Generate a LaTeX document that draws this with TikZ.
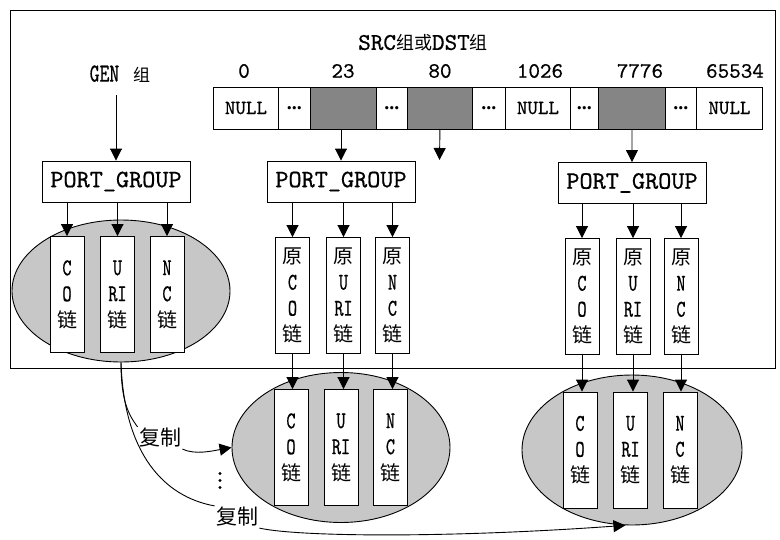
\documentclass[tikz,border=0pt]{standalone}
\usepackage{fontspec}
\usetikzlibrary{shapes.geometric,arrows.meta}
\newfontfamily\mono[FakeBold=0.6]{lmmono10-regular.otf}
\newfontfamily\monon[FakeStretch=0.72,FakeBold=0.6]{lmmono10-regular.otf}
\newfontfamily\cjk{Noto Sans CJK SC}
\newfontfamily\dotf{Liberation Serif}
\newcommand{\zh}[1]{{\cjk\fontsize{20}{26}\selectfont #1}}
\newcommand{\la}[1]{{\monon\fontsize{24}{26}\selectfont #1}}
\begin{document}
\begin{tikzpicture}[x=1pt,y=-1pt,
  line width=0.9pt,
  arr/.style={-{Triangle[length=12pt,width=12pt]},line width=0.9pt},
  cell/.style={draw,minimum width=#1,minimum height=42pt,inner sep=0pt,anchor=west,font=\mono\fontsize{20}{20}\selectfont},
  dcell/.style={cell=#1,font=\dotf\bfseries\fontsize{20}{20}\selectfont},
  scell/.style={cell=#1,fill=black!48},
  num/.style={inner sep=0pt,font=\mono\fontsize{22}{22}\selectfont},
  pg/.style={draw,minimum width=148pt,minimum height=41pt,inner sep=0pt,font=\mono\fontsize{25}{25}\selectfont},
  chain/.style={draw,fill=white,minimum width=34pt,minimum height=116pt,inner sep=0pt,align=center,font=\fontsize{24}{26}\selectfont},
  ell/.style={ellipse,draw,fill=black!22,inner sep=0pt},
  lbl/.style={inner sep=1pt,font=\cjk\fontsize{21}{21}\selectfont},
  dot/.style={fill=black}]
\useasboundingbox (0,0) rectangle (780,539);
\draw (10,10) rectangle (775,368);
% titles
\node[inner sep=0pt] (src) at (423,43) {{\mono\fontsize{24}{24}\selectfont SRC}{\cjk\fontsize{18}{18}\selectfont 组或}{\mono\fontsize{24}{24}\selectfont DST}{\cjk\fontsize{18}{18}\selectfont 组}};
\node[inner sep=0pt] (gen) at (120,74) {{\monon\fontsize{26}{26}\selectfont GEN}\hspace{14pt}{\cjk\fontsize{17}{17}\selectfont 组}};
% numbers
\node[num] (n0) at (244,71) {0};
\node[num] (n23) at (343,71) {23};
\node[num] (n80) at (440,71) {80};
\node[num] (n1026) at (540,71) {1026};
\node[num] (n7776) at (640,71) {7776};
\node[num] (n65534) at (735,71) {65534};
% array
\node[cell=65pt] (c0) at (213,108) {NULL};
\node[dcell=32pt] (d1) at (278,108) {...};
\node[scell=66pt] (c23) at (310,108) {};
\node[dcell=31pt] (d2) at (376,108) {...};
\node[scell=65pt] (c80) at (407,108) {};
\node[dcell=33pt] (d3) at (472,108) {...};
\node[cell=65pt] (c1026) at (505,108) {NULL};
\node[dcell=28pt] (d4) at (570,108) {...};
\node[scell=67pt] (c7776) at (598,108) {};
\node[dcell=31pt] (d5) at (665,108) {...};
\node[cell=66pt] (c65534) at (696,108) {NULL};
% port groups
\node[pg] (pg1) at (116,181.5) {PORT\_GROUP};
\node[pg] (pg2) at (341,181.5) {PORT\_GROUP};
\node[pg] (pg3) at (632,183) {PORT\_GROUP};
% ellipses
\node[ell,minimum width=218pt,minimum height=142pt] (ge) at (121,291) {};
\node[ell,minimum width=218pt,minimum height=150pt] (me) at (341,447.5) {};
\node[ell,minimum width=220pt,minimum height=150pt] (re) at (632,450) {};
% gen chains
\node[chain] (g1) at (67,294.5) {\la{C}\\\la{O}\\\zh{链}};
\node[chain] (g2) at (117.5,294.5) {\la{U}\\\la{RI}\\\zh{链}};
\node[chain] (g3) at (167,294.5) {\la{N}\\\la{C}\\\zh{链}};
% original chains middle
\node[chain] (m1) at (292.5,295.5) {\zh{原}\\\la{C}\\\la{O}\\\zh{链}};
\node[chain] (m2) at (343.5,295.5) {\zh{原}\\\la{U}\\\la{RI}\\\zh{链}};
\node[chain] (m3) at (392.5,295.5) {\zh{原}\\\la{N}\\\la{C}\\\zh{链}};
% original chains right
\node[chain] (r1) at (582,296.5) {\zh{原}\\\la{C}\\\la{O}\\\zh{链}};
\node[chain] (r2) at (633,296.5) {\zh{原}\\\la{U}\\\la{RI}\\\zh{链}};
\node[chain] (r3) at (681,296.5) {\zh{原}\\\la{N}\\\la{C}\\\zh{链}};
% lower middle chains
\node[chain] (lm1) at (291,447.5) {\la{C}\\\la{O}\\\zh{链}};
\node[chain] (lm2) at (341,447.5) {\la{U}\\\la{RI}\\\zh{链}};
\node[chain] (lm3) at (390.5,447.5) {\la{N}\\\la{C}\\\zh{链}};
% lower right chains
\node[chain] (lr1) at (580,450) {\la{C}\\\la{O}\\\zh{链}};
\node[chain] (lr2) at (630.5,450) {\la{U}\\\la{RI}\\\zh{链}};
\node[chain] (lr3) at (680,450) {\la{N}\\\la{C}\\\zh{链}};
% arrows top
\draw[arr,shorten <=12pt] (gen.south -| pg1.north) -- (pg1.north);
\draw[arr] (c23.south) -- (c23.south -| pg2.north) -- (pg2.north);
\coordinate (e80) at (439.5,160);
\draw[arr] (c80.south) -- (e80);
\draw[arr] (c7776.south) -- (pg3.north);
% port group to chains
\foreach \t in {g1,g2,g3} \draw[arr] (pg1.south -| \t.north) -- (\t.north);
\foreach \t in {m1,m2,m3} \draw[arr] (pg2.south -| \t.north) -- (\t.north);
\foreach \t in {r1,r2,r3} \draw[arr] (pg3.south -| \t.north) -- (\t.north);
% original to copies
\foreach \a/\b in {m1/lm1,m2/lm2,m3/lm3,r1/lr1,r2/lr2,r3/lr3}
  \draw[arr] (\a.south) -- (\a.south |- \b.north);
% copy curves
\node[lbl] (cp1) at (160,438) {复制};
\node[lbl] (cp2) at (237,517) {复制};
\foreach \y in {473.5,480.5,487.5} \fill[dot] (220,\y) circle (1.6);
\draw (ge.south) .. controls (121,400) and (128,414) .. (cp1.north west);
\draw[arr] (cp1.south east) .. controls (195,455) and (212,451) .. (me.west);
\draw (ge.south) .. controls (124,455) and (165,497) .. (cp2.north west);
\draw[arr] (cp2.south east) .. controls (300,537) and (450,538) .. (re.265);
\end{tikzpicture}
\end{document}
